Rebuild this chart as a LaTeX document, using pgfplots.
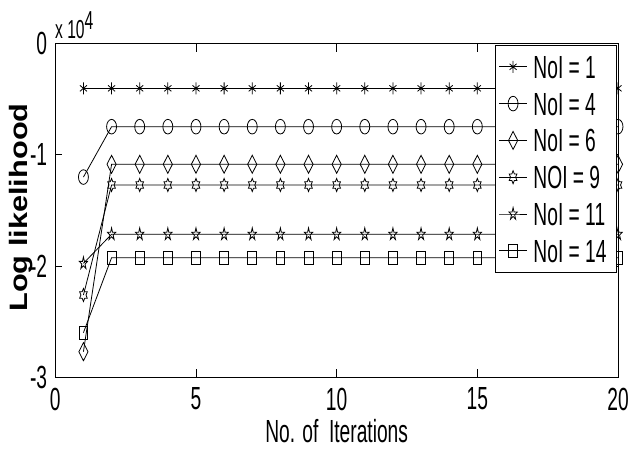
\documentclass[border=0pt]{standalone}
\usepackage{fontspec}
\setmainfont{Liberation Sans}[FakeStretch=0.6]
\newfontfamily\plainfont{Liberation Sans}
\usepackage{pgfplots}
\usepackage{pgfplotstable}
\pgfplotsset{compat=1.18}
\usetikzlibrary{plotmarks}
\newcommand\bigf{\fontsize{32}{35}\selectfont}
\newcommand\expf{\fontsize{26}{28}\selectfont}
\pgfdeclareplotmark{hexagram}{%
  \pgfpathmoveto{\pgfpointpolar{90}{\pgfplotmarksize}}%
  \pgfpathlineto{\pgfpointpolar{120}{0.577\pgfplotmarksize}}%
  \pgfpathlineto{\pgfpointpolar{150}{\pgfplotmarksize}}%
  \pgfpathlineto{\pgfpointpolar{180}{0.577\pgfplotmarksize}}%
  \pgfpathlineto{\pgfpointpolar{210}{\pgfplotmarksize}}%
  \pgfpathlineto{\pgfpointpolar{240}{0.577\pgfplotmarksize}}%
  \pgfpathlineto{\pgfpointpolar{270}{\pgfplotmarksize}}%
  \pgfpathlineto{\pgfpointpolar{300}{0.577\pgfplotmarksize}}%
  \pgfpathlineto{\pgfpointpolar{330}{\pgfplotmarksize}}%
  \pgfpathlineto{\pgfpointpolar{0}{0.577\pgfplotmarksize}}%
  \pgfpathlineto{\pgfpointpolar{30}{\pgfplotmarksize}}%
  \pgfpathlineto{\pgfpointpolar{60}{0.577\pgfplotmarksize}}%
  \pgfpathclose\pgfusepathqstroke}
\pgfdeclareplotmark{pentagram}{%
  \pgfpathmoveto{\pgfpointpolar{90}{\pgfplotmarksize}}%
  \pgfpathlineto{\pgfpointpolar{126}{0.382\pgfplotmarksize}}%
  \pgfpathlineto{\pgfpointpolar{162}{\pgfplotmarksize}}%
  \pgfpathlineto{\pgfpointpolar{198}{0.382\pgfplotmarksize}}%
  \pgfpathlineto{\pgfpointpolar{234}{\pgfplotmarksize}}%
  \pgfpathlineto{\pgfpointpolar{270}{0.382\pgfplotmarksize}}%
  \pgfpathlineto{\pgfpointpolar{306}{\pgfplotmarksize}}%
  \pgfpathlineto{\pgfpointpolar{342}{0.382\pgfplotmarksize}}%
  \pgfpathlineto{\pgfpointpolar{18}{\pgfplotmarksize}}%
  \pgfpathlineto{\pgfpointpolar{54}{0.382\pgfplotmarksize}}%
  \pgfpathclose\pgfusepathqstroke}
\pgfplotstableread{
x s1 s4 s6 s9 s11 s14
1 -4040 -12000 -27670 -22580 -19740 -25960
2 -4040 -7480 -10855 -12710 -17135 -19235
3 -4040 -7480 -10855 -12710 -17135 -19235
4 -4040 -7480 -10855 -12710 -17135 -19235
5 -4040 -7480 -10855 -12710 -17135 -19235
6 -4040 -7480 -10855 -12710 -17135 -19235
7 -4040 -7480 -10855 -12710 -17135 -19235
8 -4040 -7480 -10855 -12710 -17135 -19235
9 -4040 -7480 -10855 -12710 -17135 -19235
10 -4040 -7480 -10855 -12710 -17135 -19235
11 -4040 -7480 -10855 -12710 -17135 -19235
12 -4040 -7480 -10855 -12710 -17135 -19235
13 -4040 -7480 -10855 -12710 -17135 -19235
14 -4040 -7480 -10855 -12710 -17135 -19235
15 -4040 -7480 -10855 -12710 -17135 -19235
16 -4040 -7480 -10855 -12710 -17135 -19235
17 -4040 -7480 -10855 -12710 -17135 -19235
18 -4040 -7480 -10855 -12710 -17135 -19235
19 -4040 -7480 -10855 -12710 -17135 -19235
20 -4040 -7480 -10855 -12710 -17135 -19235
}\datatable
\begin{document}
\begin{tikzpicture}
\useasboundingbox (0,0) rectangle (632pt,448pt);
\begin{axis}[
  at={(55.3pt,70.3pt)}, anchor=south west,
  scale only axis, width=562.7pt, height=334.4pt,
  xmin=0, xmax=20, ymin=-30000, ymax=0,
  xtick={0,5,10,15,20}, xticklabels={0,5,10,15,20},
  ytick={-30000,-20000,-10000,0}, yticklabels={-3,-2,-1,0},
  scaled y ticks=false,
  tick align=inside,
  major tick length=9pt,
  ytick style={/pgfplots/major tick length=6.5pt},
  tick label style={font=\bigf, inner sep=0pt},
  xticklabel style={yshift=-10pt},
  yticklabel style={xshift=-8pt},
  axis line style={line width=1pt},
  every tick/.style={line width=0.8pt, black},
  clip=false,
  every axis plot/.append style={black, line width=0.8pt, mark options={xscale=0.68, solid}},
  legend style={font=\bigf, at={(axis description cs:1,1)}, anchor=north east,
    xshift=-1pt, yshift=-1.7pt, draw=black, line width=0.8pt, fill=white,
    inner xsep=3pt, inner ysep=3pt, row sep=0pt, column sep=6pt,
    nodes={inner sep=0pt, text height=23pt, text depth=0pt, minimum height=36.8pt}},
  legend cell align=left,
  legend image code/.code={\draw[mark repeat=2,mark phase=2] plot coordinates {(0pt,0pt) (14pt,0pt) (28pt,0pt)};},
]
\addplot[mark=asterisk, mark size=6pt] table[x=x,y=s1] {\datatable};
\addlegendentry{NoI = 1}
\addplot[mark=o, mark size=7.3pt] table[x=x,y=s4] {\datatable};
\addlegendentry{NoI = 4}
\addplot[mark=diamond, mark size=9pt] table[x=x,y=s6] {\datatable};
\addlegendentry{NoI = 6}
\addplot[mark=hexagram, mark size=6.5pt] table[x=x,y=s9] {\datatable};
\addlegendentry{NOI = 9}
\addplot[mark=pentagram, mark size=6.4pt] table[x=x,y=s11] {\datatable};
\addlegendentry{NoI = 11}
\addplot[mark=square, mark size=6.5pt] table[x=x,y=s14] {\datatable};
\addlegendentry{NoI = 14\hspace*{7pt}}
\end{axis}
\node[font=\bigf, anchor=base, inner sep=0pt] at (336.7pt,6pt) {No. of\ \ Iterations};
\node[font=\plainfont\fontsize{30.7}{34}\selectfont\bfseries, rotate=90, yscale=0.82, anchor=base, inner sep=0pt] at (28pt,240.5pt) {Log likelihood};
\node[anchor=base west, inner sep=0pt] at (55pt,409pt) {\expf x 10\raisebox{9pt}{\expf 4}};
\end{tikzpicture}
\end{document}
